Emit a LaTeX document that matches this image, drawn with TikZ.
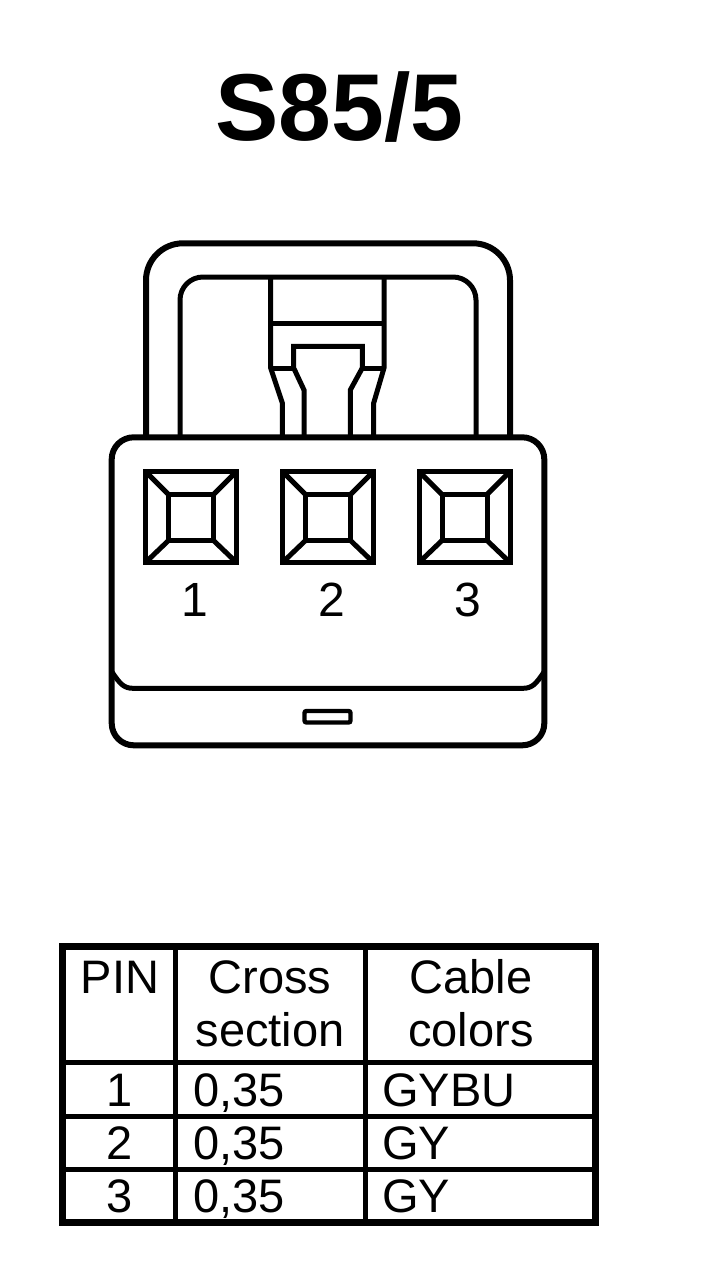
\documentclass[tikz,border=0pt]{standalone}
\usepackage{fontspec}
\setmainfont{Liberation Sans}
\tikzset{
  outline/.style={draw=black,line width=6pt,line join=round},
  thinline/.style={draw=black,line width=5pt,line join=miter},
  tablerule/.style={draw=black,line width=5pt},
  tableframe/.style={draw=black,line width=6.5pt},
  cell/.style={inner sep=0pt,font=\fontsize{47}{47}\selectfont},
  pinlabel/.style={inner sep=0pt,anchor=base,font=\fontsize{48}{48}\selectfont}
}
\newcommand{\pinbox}[1]{%
  \begin{scope}[xshift=#1pt]
    \draw[thinline] (145.5,471.5) rectangle (236.5,562.5);
    \draw[thinline] (168.5,494.5) rectangle (213.5,540.5);
    \draw[thinline] (145.5,471.5) -- (168.5,494.5);
    \draw[thinline] (236.5,471.5) -- (213.5,494.5);
    \draw[thinline] (145.5,562.5) -- (168.5,540.5);
    \draw[thinline] (236.5,562.5) -- (213.5,540.5);
  \end{scope}}
\begin{document}
\begin{tikzpicture}[x=1pt,y=-1pt]
\useasboundingbox[fill=white] (0,0) rectangle (704,1284);
% title
\node[inner sep=0pt,anchor=base,font=\fontsize{95}{95}\selectfont\bfseries] (title) at (339.5,141) {S85/5};
% arches
\draw[outline,rounded corners=37pt] (146,437) -- (146,243.3) -- (510,243.3) -- (510,437);
\draw[thinline,rounded corners=23pt] (180,437) -- (180,277) -- (476,277) -- (476,437);
% latch
\draw[thinline] (270.7,277) -- (270.7,368) -- (282.3,403) -- (282.3,437);
\draw[thinline] (384,277) -- (384,368) -- (373.7,403) -- (373.7,437);
\draw[thinline] (270.7,323) -- (384,323);
\draw[thinline] (270.7,368) -- (293.7,368);
\draw[thinline] (384,368) -- (362.3,368);
\draw[thinline] (304,437) -- (304,390) -- (293.7,368) -- (293.7,346.3) -- (362.3,346.3) -- (362.3,368) -- (350.3,390) -- (350.3,437);
% body
\draw[outline,fill=white,rounded corners=22pt] (111.7,437.3) rectangle (544.3,745.3);
\draw[draw=black,line width=5pt] (112,672) .. controls (120,684) and (124,688.3) .. (133,688.3) -- (523,688.3) .. controls (532,688.3) and (536,684) .. (544,672);
\draw[thinline,line width=4.4pt,rounded corners=2pt] (304.5,711) rectangle (350.5,722.5);
% pins
\pinbox{0}
\pinbox{137}
\pinbox{273.5}
\node[pinlabel] (p1) at (194.5,616) {1};
\node[pinlabel] (p2) at (331.5,616) {2};
\node[pinlabel] (p3) at (467.5,616) {3};
% table
\draw[tablerule] (62,1062) -- (595,1062);
\draw[tablerule] (62,1116) -- (595,1116);
\draw[tablerule] (62,1169.5) -- (595,1169.5);
\draw[tablerule] (175.5,947) -- (175.5,1222);
\draw[tablerule] (365.5,947) -- (365.5,1222);
\draw[tableframe] (62.5,946.5) rectangle (595.5,1222.5);
\node[cell,anchor=base] (h1) at (120,993) {PIN};
\node[cell,anchor=base] (h2a) at (270,993) {Cross};
\node[cell,anchor=base] (h2b) at (270,1046) {section};
\node[cell,anchor=base] (h3a) at (471,993) {Cable};
\node[cell,anchor=base] (h3b) at (471,1046) {colors};
\node[cell,anchor=base] (r1a) at (119.5,1106) {1};
\node[cell,anchor=base west] (r1b) at (193,1106) {0,35};
\node[cell,anchor=base west] (r1c) at (382,1106) {GYBU};
\node[cell,anchor=base] (r2a) at (119.5,1159) {2};
\node[cell,anchor=base west] (r2b) at (193,1159) {0,35};
\node[cell,anchor=base west] (r2c) at (382,1159) {GY};
\node[cell,anchor=base] (r3a) at (119.5,1212) {3};
\node[cell,anchor=base west] (r3b) at (193,1212) {0,35};
\node[cell,anchor=base west] (r3c) at (382,1212) {GY};
\end{tikzpicture}
\end{document}
